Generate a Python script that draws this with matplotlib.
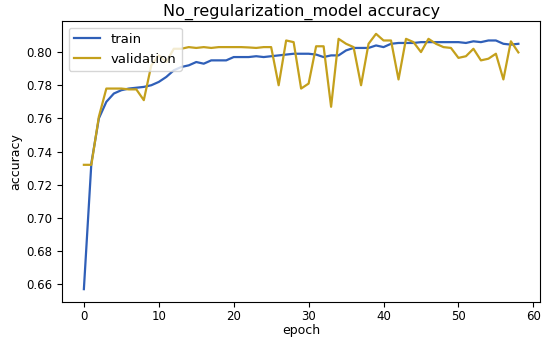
import matplotlib
matplotlib.use("Agg")
import matplotlib.pyplot as plt

epochs = list(range(59))

train_acc = [0.657, 0.733, 0.760, 0.770, 0.775, 0.777, 0.778, 0.7785, 0.779, 0.780,
             0.782, 0.785, 0.789, 0.791, 0.792, 0.794, 0.793, 0.795, 0.795, 0.795,
             0.797, 0.797, 0.797, 0.7975, 0.797, 0.7975, 0.798, 0.7985, 0.799, 0.799,
             0.799, 0.7985, 0.797, 0.798, 0.798, 0.801, 0.8025, 0.8025, 0.8025, 0.804,
             0.803, 0.805, 0.8055, 0.8055, 0.8055, 0.806, 0.806, 0.806, 0.806, 0.806,
             0.806, 0.8055, 0.8065, 0.806, 0.807, 0.807, 0.805, 0.8045, 0.805]

val_acc = [0.732, 0.732, 0.761, 0.778, 0.778, 0.778, 0.7775, 0.7775, 0.771, 0.792,
           0.798, 0.794, 0.802, 0.802, 0.803, 0.8025, 0.803, 0.8025, 0.803, 0.803,
           0.803, 0.803, 0.8028, 0.8025, 0.803, 0.803, 0.780, 0.807, 0.806, 0.778,
           0.781, 0.8035, 0.8035, 0.767, 0.808, 0.805, 0.803, 0.780, 0.805, 0.811,
           0.807, 0.807, 0.7835, 0.808, 0.806, 0.800, 0.808, 0.805, 0.803, 0.8025,
           0.7965, 0.7975, 0.802, 0.795, 0.796, 0.799, 0.7835, 0.8065, 0.7998]

fig = plt.figure(figsize=(5.5, 3.4), dpi=100)
ax = fig.add_axes([0.113, 0.112, 0.869, 0.826])

ax.plot(epochs, train_acc, color='#2f5fb8', linewidth=1.6, label='train')
ax.plot(epochs, val_acc, color='#c4a01c', linewidth=1.6, label='validation')

ax.set_title('No_regularization_model accuracy', fontsize=11.5, pad=4)
ax.set_xlabel('epoch', fontsize=9, labelpad=1)
ax.set_ylabel('accuracy', fontsize=9, labelpad=3)
ax.tick_params(labelsize=8.5)
ax.tick_params(axis='x', pad=2)
ax.legend(loc='upper left', fontsize=9.5)

fig.savefig('out.png', dpi=100)
